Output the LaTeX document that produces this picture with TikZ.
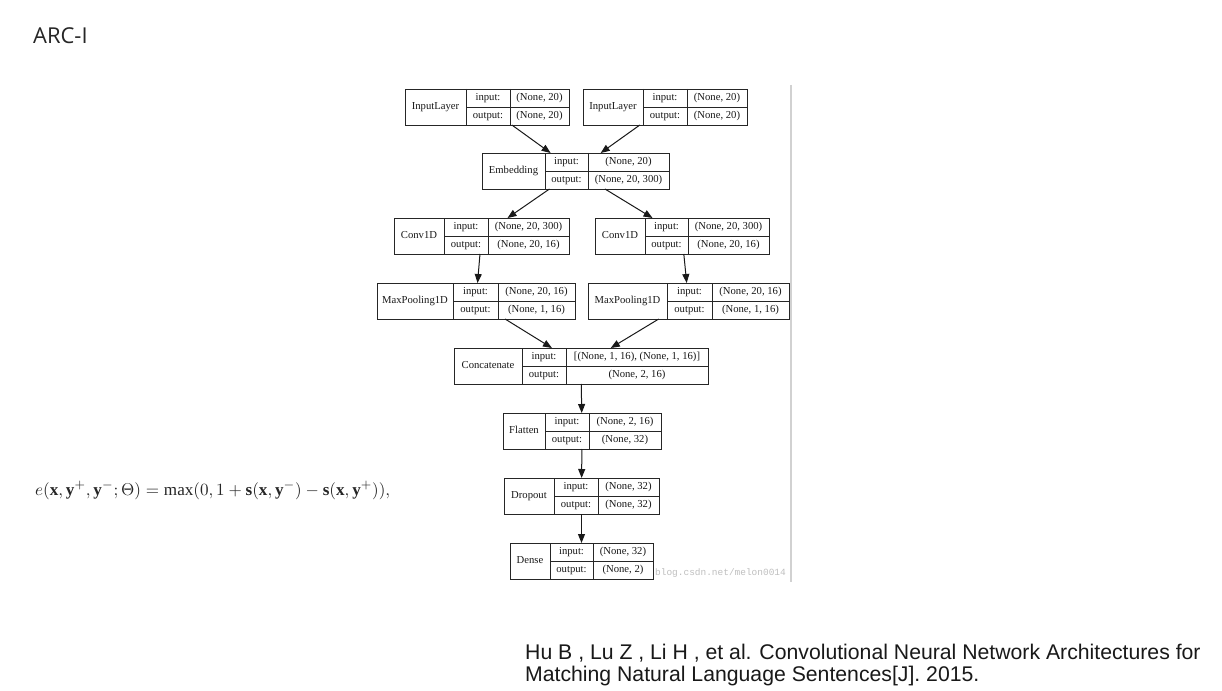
\documentclass[tikz,border=0pt]{standalone}
\usepackage{fontspec}
\usepackage{amsmath}
\setmainfont{Liberation Serif}
\newfontfamily\arcfont{Open Sans}
\newfontfamily\citefont{Liberation Sans}
\newfontfamily\wmfont{Liberation Mono}
\usetikzlibrary{arrows.meta}
\tikzset{
  layerbox/.style={draw=black!85, line width=0.9bp, inner sep=0pt, outer sep=0pt, rectangle},
  divline/.style={draw=black!85, line width=0.9bp},
  celltext/.style={inner sep=0pt, text height=7.6bp, text depth=2.4bp, font=\fontsize{10.7}{12}\selectfont, text=black!90},
  conn/.style={draw=black!90, line width=1bp, -{Triangle[length=9bp,width=7bp]}},
}
% name, left, top, right, div1, div2, label, input, output
\newcommand\layernode[9]{%
  \node[layerbox, minimum width={(#4-#2)*1bp}, minimum height=36bp] (#1) at ({(#2+#4)/2},{#3+18}) {};
  \draw[divline] (#5,#3) -- (#5,#3+36);
  \draw[divline] (#6,#3) -- (#6,#3+36);
  \draw[divline] (#5,#3+18) -- (#4,#3+18);
  \node[celltext] (#1-lab) at ({(#2+#5)/2},{#3+18}) {#7};
  \node[celltext] (#1-ik) at ({(#5+#6)/2},{#3+9}) {input:};
  \node[celltext] (#1-ok) at ({(#5+#6)/2},{#3+27}) {output:};
  \node[celltext] (#1-iv) at ({(#6+#4)/2},{#3+9}) {#8};
  \node[celltext] (#1-ov) at ({(#6+#4)/2},{#3+27}) {#9};
}
\begin{document}
\begin{tikzpicture}[x=1bp,y=-1bp]
\useasboundingbox[fill=white] (0,0) rectangle (1222,691);

\node[anchor=base west, inner sep=0pt, text=black!85, font=\arcfont\fontsize{22}{26}\selectfont] (title) at (33,44) {ARC-I};

\layernode{inA}{405}{89}{569}{466}{510}{InputLayer}{(None, 20)}{(None, 20)}
\layernode{inB}{583}{89}{747}{643}{687}{InputLayer}{(None, 20)}{(None, 20)}
\layernode{emb}{482}{153}{669}{545}{588}{Embedding}{(None, 20)}{(None, 20, 300)}
\layernode{convA}{394}{218}{569}{444}{488}{Conv1D}{(None, 20, 300)}{(None, 20, 16)}
\layernode{convB}{595}{218}{769}{645}{688}{Conv1D}{(None, 20, 300)}{(None, 20, 16)}
\layernode{poolA}{377}{283}{575}{453}{498}{MaxPooling1D}{(None, 20, 16)}{(None, 1, 16)}
\layernode{poolB}{588}{283}{789}{667}{712}{MaxPooling1D}{(None, 20, 16)}{(None, 1, 16)}
\layernode{cat}{454}{348}{708}{522}{566}{Concatenate}{[(None, 1, 16), (None, 1, 16)]}{(None, 2, 16)}
\layernode{flat}{503}{413}{661}{545}{589}{Flatten}{(None, 2, 16)}{(None, 32)}
\layernode{drop}{504}{478}{659}{554}{598}{Dropout}{(None, 32)}{(None, 32)}
\layernode{dense}{510}{543}{653}{550}{593}{Dense}{(None, 32)}{(None, 2)}

\draw[conn] (inA) -- (emb);
\draw[conn] (inB) -- (emb);
\draw[conn] (emb) -- (convA);
\draw[conn] (emb) -- (convB);
\draw[conn] (convA) -- (poolA);
\draw[conn] (convB) -- (poolB);
\draw[conn] (poolA) -- (cat);
\draw[conn] (poolB) -- (cat);
\draw[conn] (cat) -- (flat);
\draw[conn] (flat) -- (drop);
\draw[conn] (drop) -- (dense);

\node[anchor=base west, inner sep=0pt, text=black!25, font=\wmfont\fontsize{9.5}{11}\selectfont] (wm) at (655,575) {blog.csdn.net/melon0014};

\coordinate (vtop) at (791,85);
\coordinate (vbot) at (791,582);
\draw[line width=2bp, draw=black!18] (vtop) -- (vbot);

\node[anchor=base west, inner sep=0pt, text=black!85] (formula) at (35,495)
  {\resizebox{355bp}{!}{$e(\mathbf{x},\mathbf{y}^{+},\mathbf{y}^{-};\Theta)=\max(0,1+\mathbf{s}(\mathbf{x},\mathbf{y}^{-})-\mathbf{s}(\mathbf{x},\mathbf{y}^{+})),$}};

\node[anchor=base west, inner sep=0pt, text=black!90, font=\citefont\fontsize{21.3}{21}\selectfont] (cite1) at (525,659)
  {Hu B , Lu Z , Li H , et al. Convolutional Neural Network Architectures for};
\node[anchor=base west, inner sep=0pt, text=black!90, font=\citefont\fontsize{21.3}{21}\selectfont] (cite2) at (525,681)
  {Matching Natural Language Sentences[J]. 2015.};
\end{tikzpicture}
\end{document}
